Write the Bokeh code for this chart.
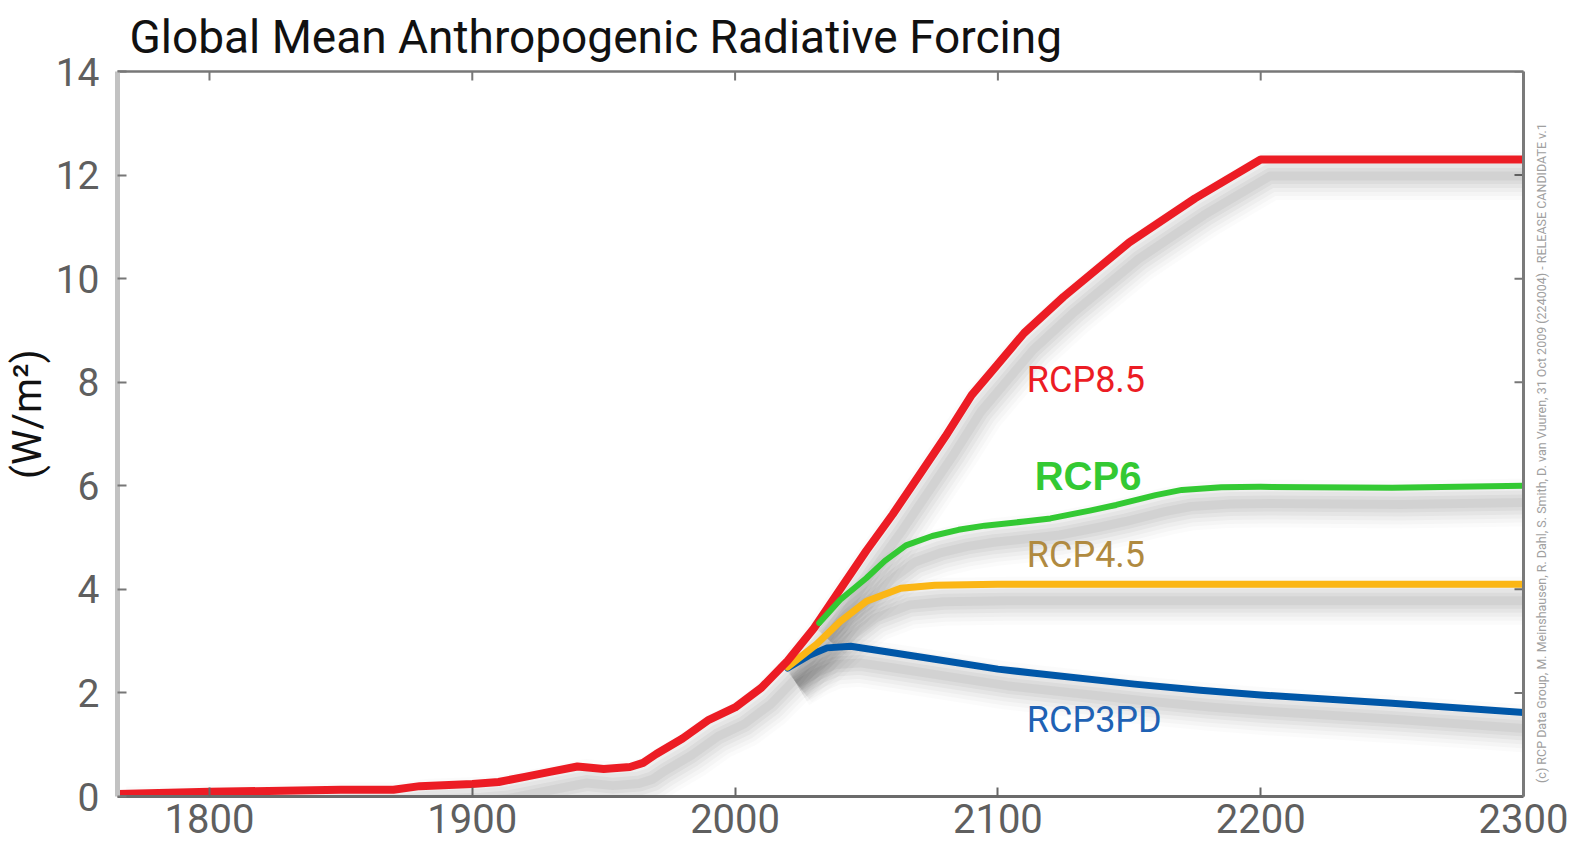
import math
from bokeh.plotting import figure
from bokeh.models import LinearAxis, Label, FixedTicker, ColumnDataSource, Range1d
from bokeh.transform import dodge
from bokeh.embed import file_html
from bokeh.resources import INLINE

# ---------------- data ----------------
rcp85_years = [1765, 1800, 1850, 1870, 1880, 1900, 1910, 1920, 1930, 1940, 1950, 1960, 1965,
               1970, 1980, 1990, 2000, 2010, 2020, 2030, 2040, 2050, 2060, 2070, 2080, 2090,
               2100, 2110, 2125, 2150, 2175, 2200, 2300]
rcp85_vals = [0.05, 0.09, 0.13, 0.13, 0.20, 0.24, 0.28, 0.38, 0.48, 0.58, 0.53, 0.57, 0.65,
              0.82, 1.12, 1.48, 1.72, 2.10, 2.62, 3.25, 4.00, 4.75, 5.45, 6.20, 6.95, 7.75,
              8.35, 8.95, 9.65, 10.70, 11.55, 12.30, 12.30]

rcp6_years = [2032, 2040, 2050, 2057, 2065, 2075, 2085, 2095, 2110, 2120, 2135, 2145, 2160,
              2170, 2185, 2200, 2250, 2300]
rcp6_vals = [3.35, 3.80, 4.22, 4.55, 4.85, 5.03, 5.15, 5.23, 5.31, 5.37, 5.52, 5.63, 5.82,
             5.92, 5.97, 5.98, 5.96, 6.00]

rcp45_years = [2020, 2031, 2040, 2050, 2063, 2076, 2100, 2150, 2200, 2300]
rcp45_vals = [2.50, 2.94, 3.38, 3.77, 4.02, 4.08, 4.10, 4.10, 4.10, 4.10]

rcp3pd_years = [2020, 2028, 2035, 2044, 2057, 2076, 2100, 2114, 2152, 2177, 2200, 2250, 2300]
rcp3pd_vals = [2.48, 2.72, 2.87, 2.90, 2.80, 2.65, 2.46, 2.38, 2.17, 2.05, 1.96, 1.80, 1.62]

series_names = ["RCP3PD", "RCP4.5", "RCP8.5", "RCP6"]
series_colors = ["#0057a8", "#fbb615", "#ec1c24", "#33c933"]
label_colors = ["#1f62b4", "#b08a40", "#ec1c24", "#33c933"]

x_ticks = [1800, 1900, 2000, 2100, 2200, 2300]
y_ticks = [0, 2, 4, 6, 8, 10, 12, 14]

title_text = "Global Mean Anthropogenic Radiative Forcing"
y_label = "(W/m\u00b2)"
watermark = ("(c) RCP Data Group, M. Meinshausen, R. Dahl, S. Smith, D. van Vuuren, "
             "31 Oct 2009 (224004) - RELEASE CANDIDATE v.1")
watermark_at = 5.0   # anchor of the credit line along the right edge, in W/m2

X0, X1, Y0, Y1 = 1765, 2300, 0, 14

# ---------------- figure ----------------
p = figure(width=1578, height=850, output_backend="svg", toolbar_location=None,
           x_range=Range1d(X0, X1), y_range=Range1d(Y0, Y1),
           min_border_left=116, min_border_right=55, min_border_top=68, min_border_bottom=54,
           background_fill_color="white", border_fill_color="white")
p.outline_line_color = None
p.xgrid.visible = False
p.ygrid.visible = False

p.title.text = title_text
p.title.text_font = "Roboto"
p.title.text_font_size = "46px"
p.title.text_font_style = "normal"
p.title.text_color = "#111111"
p.title.offset = 12
p.title.standoff = 15

tick_font = "Roboto"
tick_color = "#5f5f5f"

xa = p.xaxis[0]
xa.ticker = FixedTicker(ticks=x_ticks)
xa.axis_line_color = "#6b6b6b"
xa.axis_line_width = 3
xa.major_tick_in = 9
xa.major_tick_out = 0
xa.major_tick_line_color = "#666666"
xa.major_tick_line_width = 2
xa.minor_tick_line_color = None
xa.major_label_text_font = tick_font
xa.major_label_text_font_size = "40px"
xa.major_label_text_color = tick_color
xa.major_label_standoff = 7

ya = p.yaxis[0]
ya.ticker = FixedTicker(ticks=y_ticks)
ya.axis_line_color = "#c2c2c2"
ya.axis_line_width = 5
ya.major_tick_in = 9
ya.major_tick_out = 0
ya.major_tick_line_color = "#777777"
ya.major_tick_line_width = 2
ya.minor_tick_line_color = None
ya.major_label_text_font = tick_font
ya.major_label_text_font_size = "39px"
ya.major_label_text_color = tick_color
ya.major_label_standoff = 18
# leading no-break spaces nudge the rotated title a little above the frame centre
ya.axis_label = "\u00a0\u00a0\u00a0\u00a0" + y_label
ya.axis_label_text_font = "Roboto"
ya.axis_label_text_font_size = "40px"
ya.axis_label_text_font_style = "normal"
ya.axis_label_text_color = "#111111"
ya.axis_label_standoff = 2

# frame lines on top and right
top = LinearAxis(ticker=FixedTicker(ticks=[]), axis_line_color="#777777", axis_line_width=2.5,
                 major_tick_line_color=None, minor_tick_line_color=None)
p.add_layout(top, "above")
# right edge: carries the small rotated credit line as its single tick label
right = LinearAxis(ticker=FixedTicker(ticks=[watermark_at]), axis_line_color="#7a7a7a",
                   axis_line_width=3, major_tick_line_color=None, minor_tick_line_color=None,
                   major_label_overrides={watermark_at: watermark},
                   major_label_orientation=math.pi / 2, major_label_standoff=12,
                   major_label_text_font="Roboto", major_label_text_font_size="12.5px",
                   major_label_text_color="#a0a0a0")
p.add_layout(right, "right")

# inward tick marks on top and right edges (half of each dash is clipped by the frame)
p.scatter(x=x_ticks, y=[Y1] * len(x_ticks), marker="dash", size=18, angle=math.pi / 2,
          line_color="#777777", line_width=2)
p.scatter(x=[X1] * len(y_ticks), y=y_ticks, marker="dash", size=18,
          line_color="#777777", line_width=2)

# ---------------- data sources ----------------
sources = {
    "RCP3PD": ColumnDataSource(dict(x=rcp3pd_years, y=rcp3pd_vals)),
    "RCP4.5": ColumnDataSource(dict(x=rcp45_years, y=rcp45_vals)),
    "RCP8.5": ColumnDataSource(dict(x=rcp85_years, y=rcp85_vals)),
    "RCP6": ColumnDataSource(dict(x=rcp6_years, y=rcp6_vals)),
}

# soft drop shadow beneath the curves
for w, a in [(48, 0.016), (40, 0.022), (32, 0.028), (24, 0.034), (16, 0.04), (9, 0.045)]:
    for name in series_names:
        p.line(x=dodge("x", 3.5, range=p.x_range), y=dodge("y", -0.32, range=p.y_range),
               source=sources[name], line_color="black", line_alpha=a, line_width=w,
               line_join="round", line_cap="butt")

widths = {"RCP3PD": 7, "RCP4.5": 7, "RCP8.5": 8, "RCP6": 6}
for name, col in zip(series_names, series_colors):
    p.line(x="x", y="y", source=sources[name], line_color=col, line_width=widths[name],
           line_join="round", line_cap="round")

# ---------------- curve labels ----------------
label_pos = {"RCP8.5": (2111, 8.05), "RCP6": (2114, 6.18), "RCP4.5": (2111, 4.66),
             "RCP3PD": (2111, 1.47)}
for name, col in zip(series_names, label_colors):
    lx, ly = label_pos[name]
    if name == "RCP6":
        p.add_layout(Label(x=lx, y=ly, text=name, text_color=col, text_font="Liberation Sans",
                           text_font_style="bold", text_font_size="40px", text_baseline="middle",
                           text_align="left"))
    else:
        p.add_layout(Label(x=lx, y=ly, text=name, text_color=col, text_font="Roboto",
                           text_font_size="36px", text_baseline="middle", text_align="left"))

open("out.html", "w").write(file_html(p, INLINE))
